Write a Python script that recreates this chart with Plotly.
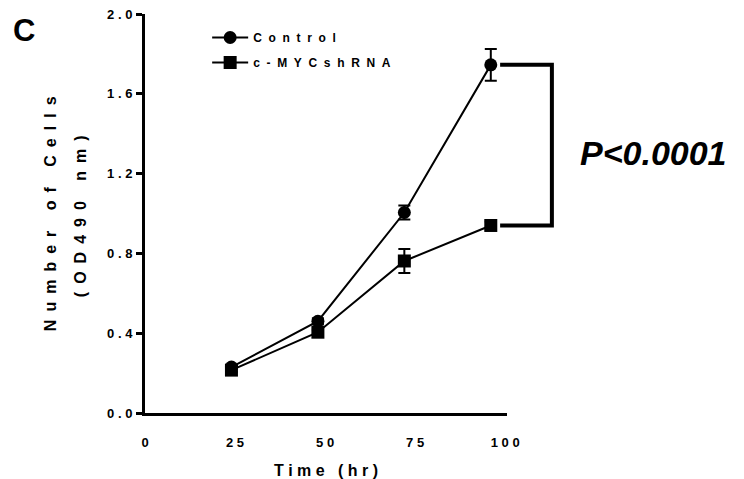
import plotly.graph_objects as go

# ---- data ----
time_hr = [24, 48, 72, 96]
control_mean = [0.23, 0.46, 1.005, 1.745]
control_err = [0.01, 0.015, 0.035, 0.08]
shrna_mean = [0.215, 0.405, 0.762, 0.94]
shrna_err = [0.01, 0.01, 0.06, 0.02]

series_names = ["Control", "c-MYCshRNA"]
x_ticks = [0, 25, 50, 75, 100]
x_tick_labels = ["0", "25", "50", "75", "100"]
y_ticks = [0.0, 0.4, 0.8, 1.2, 1.6, 2.0]
y_tick_labels = ["0.0", "0.4", "0.8", "1.2", "1.6", "2.0"]
x_title = "Time (hr)"
y_title_1 = "Number of Cells"
y_title_2 = "(OD490 nm)"
panel_label = "C"
p_text = "P&lt;0.0001"

FONT = "Liberation Sans, Arial, Helvetica, sans-serif"
NB = "\u00a0"
EN = "\u2002"


def spaced(s, sep):
    return sep.join(NB if c == " " else c for c in s)


fig = go.Figure()
fig.add_trace(go.Scatter(
    x=time_hr, y=control_mean, name=spaced(series_names[0], NB * 2),
    mode="lines+markers", legendgroup="a",
    line=dict(color="black", width=2),
    marker=dict(symbol="circle", size=13, color="black"),
    error_y=dict(type="data", array=control_err, color="black", thickness=2, width=6),
))
fig.add_trace(go.Scatter(
    x=time_hr, y=shrna_mean, name=spaced(series_names[1], NB * 2),
    mode="lines+markers", legendgroup="b",
    line=dict(color="black", width=2),
    marker=dict(symbol="square", size=13, color="black"),
    error_y=dict(type="data", array=shrna_err, color="black", thickness=2, width=6),
))

# significance bracket between the final points
bx0, bx1 = 0.981, 1.124
fig.add_shape(
    type="path", xref="paper", yref="y",
    path=f"M {bx0},{control_mean[-1]} L {bx1},{control_mean[-1]} L {bx1},{shrna_mean[-1]} L {bx0},{shrna_mean[-1]}",
    line=dict(color="black", width=4),
)

fig.add_annotation(
    text=p_text, xref="paper", yref="paper", x=1.405, y=0.652,
    showarrow=False, xanchor="center", yanchor="middle",
    font=dict(family=FONT, size=34, color="black", weight="bold", style="italic"),
)
fig.add_annotation(
    text=panel_label, xref="paper", yref="paper", x=-0.334, y=0.9575,
    showarrow=False, xanchor="center", yanchor="middle",
    font=dict(family=FONT, size=31, color="black", weight="bold"),
)
fig.add_annotation(
    text=spaced(y_title_1, EN), xref="paper", yref="paper", x=-0.259, y=0.499,
    showarrow=False, textangle=-90, xanchor="center", yanchor="middle",
    font=dict(family=FONT, size=16, color="black", weight="bold"),
)
fig.add_annotation(
    text=spaced(y_title_2, EN), xref="paper", yref="paper", x=-0.176, y=0.494,
    showarrow=False, textangle=-90, xanchor="center", yanchor="middle",
    font=dict(family=FONT, size=16, color="black", weight="bold"),
)

# the page body adds an 8px margin, so the figure is 8px smaller in each direction
fig.update_layout(
    width=736, height=471,
    margin=dict(l=137, r=237, t=6, b=66),
    paper_bgcolor="white", plot_bgcolor="white",
    font=dict(family=FONT, color="black"),
    showlegend=True,
    legend=dict(
        x=0.1717, y=0.9775, xanchor="left", yanchor="top",
        font=dict(family=FONT, size=12, color="black", weight="bold"),
        bgcolor="rgba(0,0,0,0)", tracegroupgap=6, traceorder="grouped",
        itemwidth=36,
    ),
    xaxis=dict(
        range=[0, 100.5], tickvals=x_ticks,
        ticktext=[spaced(t, NB) for t in x_tick_labels],
        showline=True, linewidth=3, linecolor="black",
        ticks="", showgrid=False, zeroline=False, automargin=False,
        ticklabelstandoff=15, ticklabeloverflow="allow",
        tickfont=dict(family=FONT, size=13, color="black", weight="bold"),
        title=dict(text=spaced(x_title, NB), standoff=17,
                   font=dict(family=FONT, size=16, color="black", weight="bold")),
    ),
    yaxis=dict(
        range=[0, 2.0], tickvals=y_ticks,
        ticktext=[spaced(t, NB) for t in y_tick_labels],
        showline=True, linewidth=3, linecolor="black",
        ticks="outside", ticklen=6, tickwidth=3, tickcolor="black",
        showgrid=False, zeroline=False, automargin=False,
        ticklabelstandoff=1, ticklabeloverflow="allow",
        tickfont=dict(family=FONT, size=13, color="black", weight="bold"),
    ),
)

fig.write_html("out.html")
